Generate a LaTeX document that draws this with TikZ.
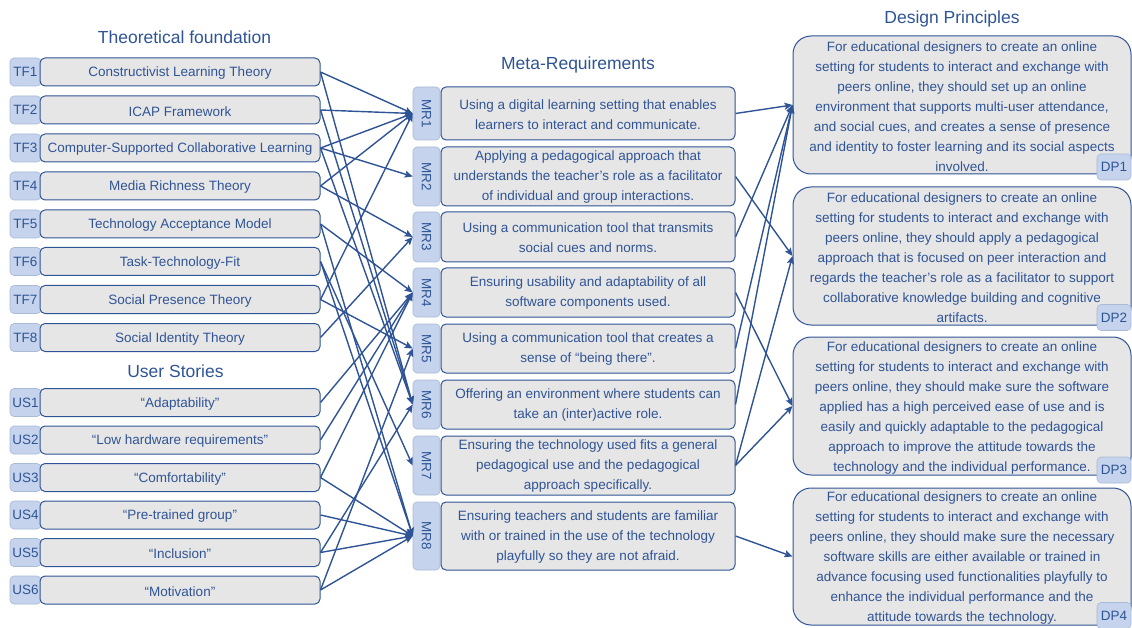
\documentclass[tikz,border=0pt]{standalone}
\usepackage{fontspec}
\setmainfont{Liberation Sans}
\usetikzlibrary{arrows.meta}
\definecolor{mblue}{RGB}{47,84,150}
\definecolor{boxfill}{RGB}{231,230,230}
\definecolor{tabfill}{RGB}{197,212,236}
\definecolor{tabline}{RGB}{168,186,214}
\tikzset{
  lbl/.style={text=mblue, font=\fontsize{13.5}{20}\selectfont},
  txt/.style={lbl, align=center, inner sep=0pt},
  ttl/.style={text=mblue, font=\fontsize{17.5}{21}\selectfont, inner sep=0pt},
  tab/.style={draw=tabline, fill=tabfill, rounded corners=4pt, inner sep=0pt, line width=0.6pt, lbl},
  box/.style={draw=mblue, fill=boxfill, rounded corners=5pt, inner sep=0pt, line width=1pt},
  dpbox/.style={box, rounded corners=18pt},
  conn/.style={draw=mblue, line width=1.4pt, -{Stealth[length=8pt,width=7pt,inset=1.5pt]}},
}
\begin{document}
\begin{tikzpicture}[x=1pt,y=-1pt]
\useasboundingbox (0,0) rectangle (1132,628);

% titles
\node[ttl] (ttf) at (184.5,37) {Theoretical foundation};
\node[ttl] (tus) at (175.5,371) {User Stories};
\node[ttl] (tmr) at (578,65) {Meta-Requirements};
\node[ttl] (tdp) at (952,19) {Design Principles};

% theoretical foundation
\foreach \n/\y/\t in {1/72/Constructivist Learning Theory,
                      2/110/ICAP Framework,
                      3/148/Computer-Supported Collaborative Learning,
                      4/186/Media Richness Theory,
                      5/224/Technology Acceptance Model,
                      6/261.5/Task-Technology-Fit,
                      7/299.5/Social Presence Theory,
                      8/337.5/Social Identity Theory}{
  \node[tab, minimum width=31pt, minimum height=28pt] (tft\n) at (25.5,\y) {TF\n};
  \node[box, minimum width=280pt, minimum height=28pt] (tf\n) at (180,\y) {};
  \node[txt] (tfx\n) at ([yshift=-1.5pt]tf\n.center) {\t};
}

% user stories
\foreach \n/\y/\t in {1/402.5/“Adaptability”,
                      2/440/“Low hardware requirements”,
                      3/477.5/“Comfortability”,
                      4/515/“Pre-trained group”,
                      5/552.5/“Inclusion”,
                      6/590/“Motivation”}{
  \node[tab, minimum width=31pt, minimum height=28pt] (ust\n) at (25.5,\y) {US\n};
  \node[box, minimum width=280pt, minimum height=28pt] (us\n) at (180,\y) {};
  \node[txt] (usx\n) at ([yshift=-1.5pt]us\n.center) {\t};
}

% meta-requirements
\foreach \n/\y/\h/\t in {1/113.5/53/Using a digital learning setting that enables\\learners to interact and communicate.,
                         2/176.5/59/Applying a pedagogical approach that\\understands the teacher’s role as a facilitator\\of individual and group interactions.,
                         3/237/50/Using a communication tool that transmits\\social cues and norms.,
                         4/292.5/49/Ensuring usability and adaptability of all\\software components used.,
                         5/348.5/49/Using a communication tool that creates a\\sense of “being there”.,
                         6/404.5/49/Offering an environment where students can\\take an (inter)active role.,
                         7/465.5/59/Ensuring the technology used fits a general\\pedagogical use and the pedagogical\\approach specifically.,
                         8/536/68/Ensuring teachers and students are familiar\\with or trained in the use of the technology\\playfully so they are not afraid.}{
  \node[tab, minimum width=27pt, minimum height=\h pt] (mrt\n) at (426.5,\y) {};
  \node[lbl, rotate=-90] (mrl\n) at (mrt\n.center) {MR\n};
  \node[box, minimum width=294pt, minimum height=\h pt] (mr\n) at (588,\y) {};
  \node[txt] (mrx\n) at ([yshift=-1pt]mr\n.center) {\t};
}

% design principles
\node[dpbox, minimum width=338pt, minimum height=138pt] (dp1) at (962,105) {};
\node[dpbox, minimum width=338pt, minimum height=138pt] (dp2) at (962,256) {};
\node[dpbox, minimum width=338pt, minimum height=138pt] (dp3) at (962,406) {};
\node[dpbox, minimum width=338pt, minimum height=137pt] (dp4) at (962,556.5) {};
\node[txt] (dpx1) at ([yshift=-2pt]dp1.center)
 {For educational designers to create an online\\setting for students to interact and exchange with\\peers online, they should set up an online\\environment that supports multi-user attendance,\\and social cues, and creates a sense of presence\\and identity to foster learning and its social aspects\\involved.};
\node[txt] (dpx2) at ([yshift=-2pt]dp2.center)
 {For educational designers to create an online\\setting for students to interact and exchange with\\peers online, they should apply a pedagogical\\approach that is focused on peer interaction and\\regards the teacher’s role as a facilitator to support\\collaborative knowledge building and cognitive\\artifacts.};
\node[txt] (dpx3) at ([yshift=-2pt]dp3.center)
 {For educational designers to create an online\\setting for students to interact and exchange with\\peers online, they should make sure the software\\applied has a high perceived ease of use and is\\easily and quickly adaptable to the pedagogical\\approach to improve the attitude towards the\\technology and the individual performance.};
\node[txt] (dpx4) at ([yshift=-2pt]dp4.center)
 {For educational designers to create an online\\setting for students to interact and exchange with\\peers online, they should make sure the necessary\\software skills are either available or trained in\\advance focusing used functionalities playfully to\\enhance the individual performance and the\\attitude towards the technology.};
\foreach \n/\y in {1/167,2/317.5,3/470,4/615.5}{
  \node[tab, minimum width=34pt, minimum height=26pt] (dpt\n) at (1114,\y) {DP\n};
}

% connectors: foundations and stories to meta-requirements
\foreach \a/\b in {tf1/mrt1, tf1/mrt6,
                   tf2/mrt1, tf2/mrt6,
                   tf3/mrt1, tf3/mrt2, tf3/mrt6,
                   tf4/mrt1, tf4/mrt3,
                   tf5/mrt4, tf5/mrt8,
                   tf6/mrt7, tf6/mrt8,
                   tf7/mrt1, tf7/mrt5,
                   tf8/mrt3,
                   us1/mrt4, us2/mrt4,
                   us3/mrt4, us3/mrt8,
                   us4/mrt8,
                   us5/mrt6, us5/mrt8,
                   us6/mrt5, us6/mrt8}{
  \draw[conn] (\a.east) -- (\b.west);
}

% connectors: meta-requirements to design principles
\foreach \a/\b in {mr1/dp1, mr3/dp1, mr5/dp1, mr6/dp1,
                   mr2/dp2, mr7/dp2,
                   mr4/dp3, mr7/dp3,
                   mr8/dp4}{
  \draw[conn] (\a.east) -- (\b.west);
}
\end{tikzpicture}
\end{document}
